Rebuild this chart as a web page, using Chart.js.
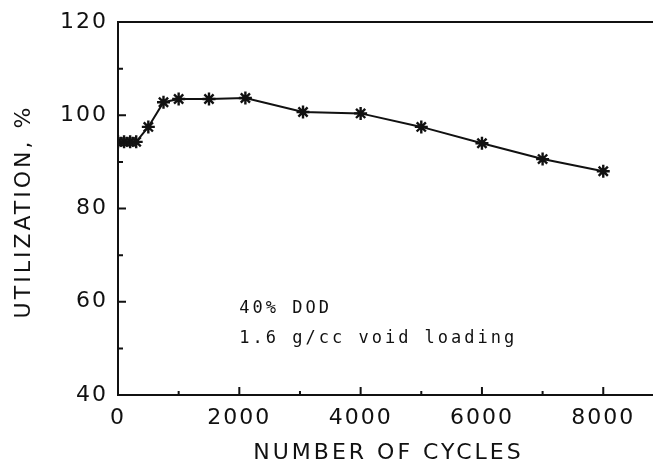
<!DOCTYPE html>
<html>
<head>
<meta charset="utf-8">
<script src="https://cdn.jsdelivr.net/npm/chart.js@4"></script>
<style>
  html, body { margin: 0; padding: 0; background: #fff; }
  #wrap { width: 653px; height: 468px; }
</style>
</head>
<body>
<div id="wrap"><canvas id="myChart" width="653" height="468"></canvas></div>
<script>
const cycles = [0, 100, 200, 300, 500, 750, 1000, 1500, 2100, 3050, 4000, 5000, 6000, 7000, 8000];
const utilization = [94.3, 94.3, 94.3, 94.3, 97.5, 102.8, 103.5, 103.5, 103.7, 100.7, 100.4, 97.5, 94, 90.6, 88];

const xTicks = [0, 2000, 4000, 6000, 8000];
const xMinorTicks = [1000, 3000, 5000, 7000];
const yTicks = [40, 60, 80, 100, 120];
const yMinorTicks = [50, 70, 90, 110];
const xTitle = 'NUMBER OF CYCLES';
const yTitle = 'UTILIZATION, %';
const notes = ['40% DOD', '1.6 g/cc void loading'];

const ink = '#111';
const font = 'DejaVu Sans';

// wide plotter-style lettering for everything the chart writes
const spacingPlugin = {
  id: 'spacing',
  beforeDraw(chart) {
    if ('letterSpacing' in chart.ctx) chart.ctx.letterSpacing = '2px';
  }
};

// inward tick marks, top frame line, axis titles and the note text
const framePlugin = {
  id: 'frame',
  afterDraw(chart) {
    const ctx = chart.ctx;
    const x = chart.scales.x, y = chart.scales.y;
    const a = chart.chartArea;
    ctx.save();
    ctx.strokeStyle = ink;
    ctx.lineWidth = 2;
    ctx.beginPath();
    ctx.moveTo(a.left, a.top);
    ctx.lineTo(a.right, a.top);
    yTicks.forEach(v => {
      const py = y.getPixelForValue(v);
      ctx.moveTo(a.left, py); ctx.lineTo(a.left + 8, py);
    });
    yMinorTicks.forEach(v => {
      const py = y.getPixelForValue(v);
      ctx.moveTo(a.left, py); ctx.lineTo(a.left + 5, py);
    });
    xTicks.forEach(v => {
      const px = x.getPixelForValue(v);
      ctx.moveTo(px, a.bottom); ctx.lineTo(px, a.bottom - 8);
    });
    xMinorTicks.forEach(v => {
      const px = x.getPixelForValue(v);
      ctx.moveTo(px, a.bottom); ctx.lineTo(px, a.bottom - 4);
    });
    ctx.stroke();

    ctx.fillStyle = ink;
    ctx.textBaseline = 'middle';
    ctx.textAlign = 'center';
    if ('letterSpacing' in ctx) ctx.letterSpacing = '3px';
    ctx.font = '22px "' + font + '"';
    ctx.fillText(xTitle, (a.left + a.right) / 2 + 3, 453);
    ctx.save();
    ctx.translate(24, (a.top + a.bottom) / 2 + 3);
    ctx.rotate(-Math.PI / 2);
    ctx.fillText(yTitle, 0, 0);
    ctx.restore();

    ctx.font = '17px "DejaVu Sans Mono"';
    ctx.textAlign = 'left';
    ctx.fillText(notes[0], x.getPixelForValue(2000), y.getPixelForValue(58.6));
    ctx.fillText(notes[1], x.getPixelForValue(2000), y.getPixelForValue(52.2));
    ctx.restore();
  }
};

const data = {
  datasets: [{
    label: 'utilization',
    data: cycles.map((c, i) => ({ x: c, y: utilization[i] })),
    showLine: true,
    borderColor: ink,
    borderWidth: 2,
    pointStyle: 'star',
    pointRadius: 6.5,
    pointBorderWidth: 2.4,
    pointBorderColor: ink,
    pointBackgroundColor: ink,
    tension: 0
  }]
};

const config = {
  type: 'scatter',
  data: data,
  options: {
    responsive: false,
    animation: false,
    layout: { autoPadding: false, padding: { top: 22, left: 8, right: 0, bottom: 0 } },
    plugins: {
      legend: { display: false },
      tooltip: { enabled: false }
    },
    scales: {
      x: {
        type: 'linear',
        min: 0,
        max: 8820,
        afterBuildTicks: s => { s.ticks = xTicks.map(v => ({ value: v })); },
        afterFit: s => { s.height = 73; s.paddingLeft = 0; s.paddingRight = 0; },
        grid: { display: false, drawTicks: false },
        border: { display: true, color: ink, width: 2 },
        ticks: {
          color: ink,
          font: { family: font, size: 22 },
          padding: 10,
          maxRotation: 0,
          callback: v => String(v)
        }
      },
      y: {
        min: 40,
        max: 120,
        afterBuildTicks: s => { s.ticks = yTicks.map(v => ({ value: v })); },
        afterFit: s => { s.width = 110; s.paddingTop = 0; s.paddingBottom = 0; },
        grid: { display: false, drawTicks: false },
        border: { display: true, color: ink, width: 2 },
        ticks: {
          color: ink,
          font: { family: font, size: 22 },
          padding: 10,
          callback: v => String(v)
        }
      }
    }
  },
  plugins: [spacingPlugin, framePlugin]
};

if (document.getElementById('myChart')) {
  const myChart = new Chart(
    document.getElementById('myChart').getContext('2d'),
    config
  );
}
</script>
</body>
</html>
